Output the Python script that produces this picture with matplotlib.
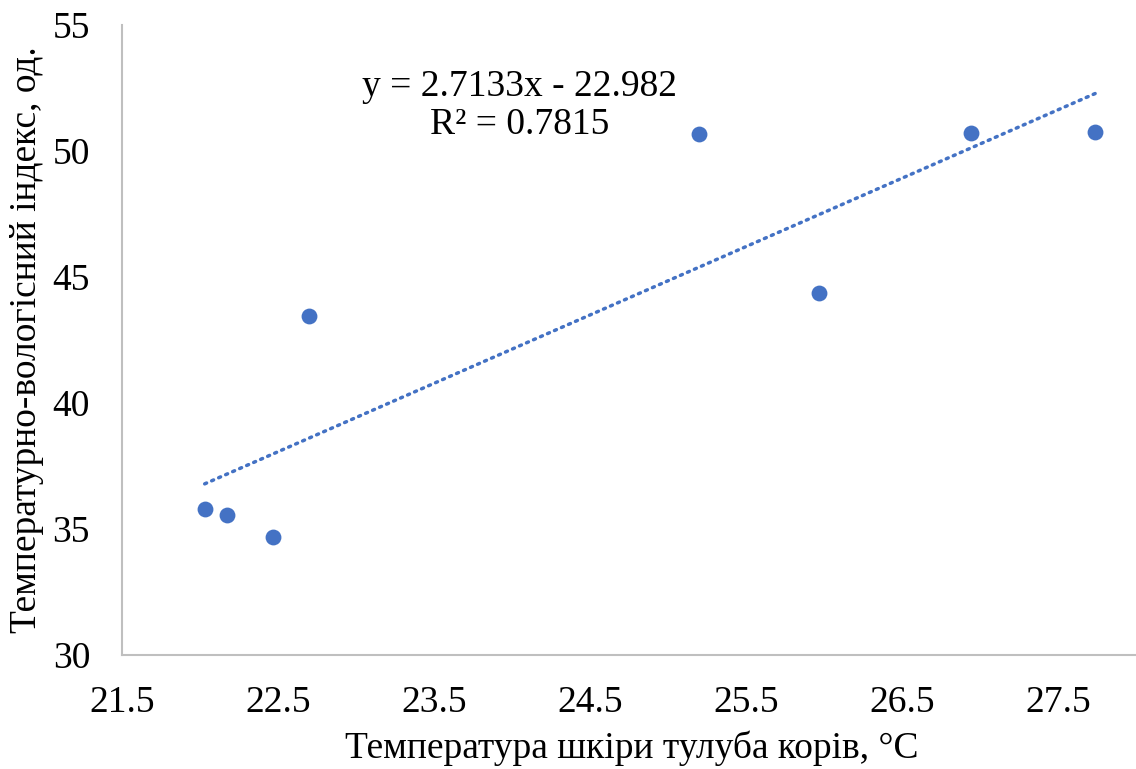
import matplotlib
matplotlib.use("Agg")
import matplotlib.pyplot as plt
import numpy as np

# Data
skin_temp = [22.03, 22.17, 22.47, 22.70, 25.20, 25.97, 26.94, 27.74]
thi_index = [35.79, 35.56, 34.68, 43.45, 50.67, 44.37, 50.71, 50.75]
trend_slope = 2.7133
trend_intercept = -22.982
r_squared = 0.7815
x_ticks = [21.5, 22.5, 23.5, 24.5, 25.5, 26.5, 27.5]
y_ticks = [30, 35, 40, 45, 50, 55]
x_label = "Температура шкіри тулуба корів, °C"
y_label = "Температурно-вологісний індекс, од."

plt.rcParams['font.family'] = ['Liberation Serif', 'DejaVu Serif']

fig = plt.figure(figsize=(11.36, 7.69), dpi=100)
ax = fig.add_axes([0.1074, 0.1482, 0.8926, 0.8193])

color = '#4472C4'
ax.scatter(skin_temp, thi_index, s=130, color=color, zorder=3, linewidths=0)

xt = np.array([min(skin_temp), max(skin_temp)])
ax.plot(xt, trend_slope * xt + trend_intercept, color=color, lw=2.5,
        linestyle=(0, (0.6, 1.6)), dash_capstyle='round', zorder=2)

ax.text(24.05, 51.8, f"y = {trend_slope}x - {abs(trend_intercept)}\nR² = {r_squared}",
        ha='center', va='center', fontsize=27, linespacing=1.15,
        multialignment='center')

ax.set_xlim(21.5, 28.0)
ax.set_ylim(30, 55)
ax.set_xticks(x_ticks)
ax.set_xticklabels([f"{t:.1f}" for t in x_ticks])
ax.set_yticks(y_ticks)
ax.tick_params(length=0, labelsize=27)
ax.tick_params(axis='x', pad=22)
ax.tick_params(axis='y', pad=23)

for s in ['top', 'right']:
    ax.spines[s].set_visible(False)
for s in ['left', 'bottom']:
    ax.spines[s].set_color('#bfbfbf')
    ax.spines[s].set_linewidth(1.5)

W, H = 1136, 769
fig.text(632 / W, 1 - 758 / H, x_label, fontsize=27, ha='center', va='baseline')
fig.text(36 / W, 1 - 340 / H, y_label, fontsize=27, ha='center', va='baseline',
         rotation=90, rotation_mode='anchor')

fig.savefig("out.png", dpi=100)
